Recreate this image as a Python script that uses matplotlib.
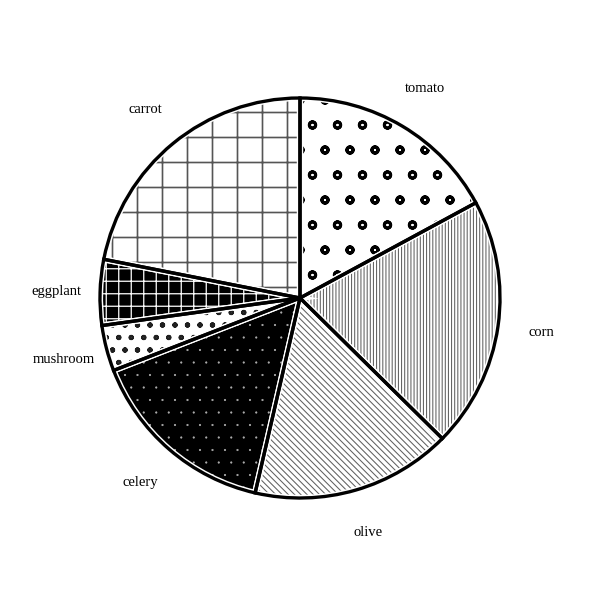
import matplotlib
matplotlib.use("Agg")
import matplotlib.pyplot as plt
import matplotlib.hatch as mhatch

labels = ["tomato", "corn", "olive", "celery", "mushroom", "eggplant", "carrot"]
shares = [17.1, 20.3, 16.2, 15.5, 3.7, 5.3, 21.9]

face_colors = ["white", "white", "white", "black", "white", "black", "white"]
hatch_colors = ["black", "#606060", "#606060", "#b0b0b0", "#202020", "white", "#555555"]
hatches = ["o", "|" * 8, "\\" * 8, "..", "oo", "++", "+"]
hatch_widths = [1.4, 0.5, 0.5, 0.3, 1.0, 0.6, 0.8]

# smaller rings / dots than the matplotlib defaults
mhatch.SmallCircles.size = 0.13
mhatch.SmallFilledCircles.size = 0.06

fig = plt.figure(figsize=(4, 4), dpi=150)
ax = fig.add_axes([0, 0, 1, 1])

wedges, texts = ax.pie(shares, labels=labels, startangle=90, counterclock=False,
                       labeldistance=1.22, radius=1.0,
                       textprops=dict(fontsize=7, family="Liberation Serif"))

for w, fc, hc, h, hw in zip(wedges, face_colors, hatch_colors, hatches, hatch_widths):
    w.set_facecolor(fc)
    w.set_edgecolor(hc)
    w.set_linewidth(0)
    w.set_hatch(h)
    if hasattr(w, "set_hatch_linewidth"):
        w.set_hatch_linewidth(hw)

for t in texts:
    t.set_horizontalalignment("center")
    t.set_verticalalignment("center")

# white inset band, then black outline on top
ax.pie(shares, startangle=90, counterclock=False, radius=1.0,
       wedgeprops=dict(fill=False, edgecolor="white", linewidth=3.0))
ax.pie(shares, startangle=90, counterclock=False, radius=1.0,
       wedgeprops=dict(fill=False, edgecolor="black", linewidth=1.6))

ax.set_xlim(-1.5, 1.5)
ax.set_ylim(-1.51, 1.49)
ax.set_aspect("auto")
ax.axis("off")

fig.savefig("out.png", dpi=150)
